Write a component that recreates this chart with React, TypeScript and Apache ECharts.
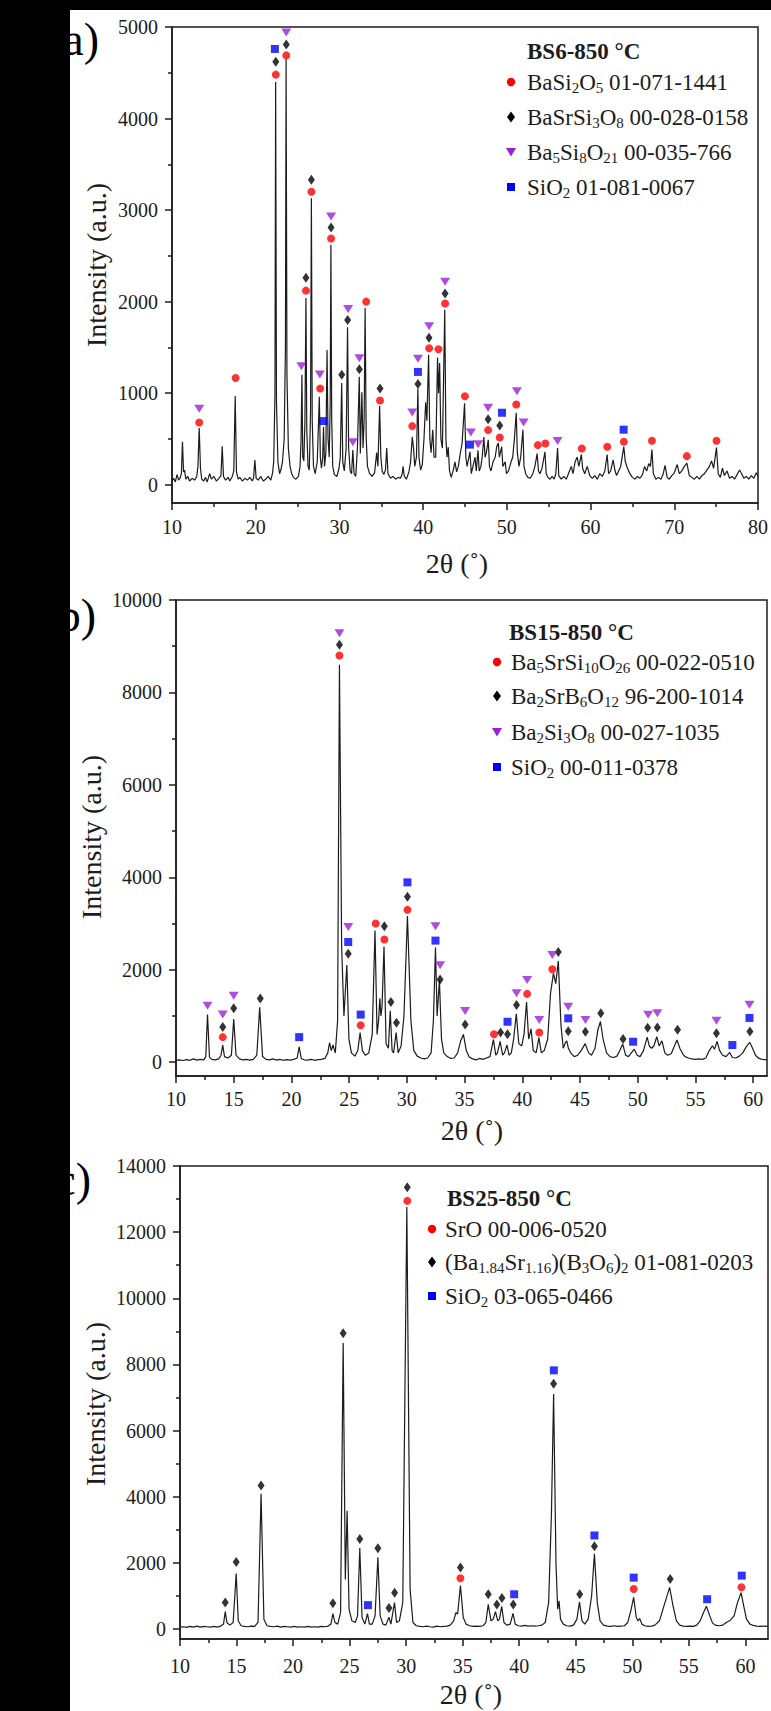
import React, { useEffect, useRef } from "react";
import * as echarts from "echarts";

const W = 771;
const H = 1711;
const FONT = "Liberation Serif";
const INK = "#1c1c1c";
const RED = "#ff0000";
const BLACK = "#000000";
const PURPLE = "#9b1fd8";
const BLUE = "#0000ff";

// ---------------- ticks ----------------
const xMajorA = [10, 20, 30, 40, 50, 60, 70, 80];
const xMinorA = [15, 25, 35, 45, 55, 65, 75];
const yMajorA = [0, 1000, 2000, 3000, 4000, 5000];
const yMinorA = [500, 1500, 2500, 3500, 4500];
const xMajorBC = [10, 15, 20, 25, 30, 35, 40, 45, 50, 55, 60];
const xMinorBC = [12.5, 17.5, 22.5, 27.5, 32.5, 37.5, 42.5, 47.5, 52.5, 57.5];
const yMajorB = [0, 2000, 4000, 6000, 8000, 10000];
const yMinorB = [1000, 3000, 5000, 7000, 9000];
const yMajorC = [0, 2000, 4000, 6000, 8000, 10000, 12000, 14000];
const yMinorC = [1000, 3000, 5000, 7000, 9000, 11000, 13000];

// ---------------- patterns (2θ, intensity) ----------------
const patternA: [number, number][] = [
  [10.0,40],[10.2,70],[10.4,30],[10.6,110],[10.8,50],[11.0,80],[11.12,120],[11.25,470],[11.38,140],[11.5,160],[11.65,60],[11.9,90],[12.1,40],[12.4,70],[12.7,50],[12.95,90],[13.1,200],[13.25,620],[13.4,180],[13.55,60],[13.8,40],[14.0,80],[14.2,30],[14.5,120],[14.7,60],[15.0,90],[15.3,40],[15.6,70],[15.85,100],[16.0,420],[16.15,90],[16.4,50],[16.7,80],[16.9,40],[17.2,90],[17.38,150],[17.55,970],[17.7,140],[17.9,60],[18.1,80],[18.4,40],[18.7,70],[19.0,50],[19.3,80],[19.6,40],[19.75,80],[19.9,270],[20.05,70],[20.3,50],[20.6,90],[20.9,40],[21.2,60],[21.5,90],[21.8,50],[22.0,120],[22.15,250],[22.3,1000],[22.38,4400],[22.48,900],[22.65,250],[22.85,120],[23.0,160],[23.2,250],[23.4,500],[23.55,1500],[23.63,4650],[23.73,1200],[23.9,400],[24.1,200],[24.3,120],[24.5,80],[24.8,60],[25.1,90],[25.3,200],[25.42,500],[25.52,1200],[25.62,300],[25.75,260],[25.88,700],[26.0,2040],[26.1,600],[26.25,200],[26.4,160],[26.55,800],[26.65,3130],[26.75,700],[26.9,200],[27.1,120],[27.35,250],[27.6,960],[27.72,300],[27.85,180],[28.0,300],[28.1,630],[28.22,200],[28.38,350],[28.52,1470],[28.64,500],[28.78,300],[28.9,900],[28.98,2620],[29.08,700],[29.2,200],[29.4,110],[29.7,90],[29.95,180],[30.1,300],[30.27,1110],[30.4,250],[30.58,150],[30.8,400],[30.97,1720],[31.1,400],[31.28,150],[31.45,120],[31.6,380],[31.75,120],[31.95,90],[32.15,400],[32.37,1180],[32.5,340],[32.68,1010],[32.82,400],[32.95,700],[33.07,1930],[33.2,500],[33.35,200],[33.6,120],[33.9,90],[34.2,130],[34.45,350],[34.6,200],[34.8,860],[34.95,300],[35.1,150],[35.3,110],[35.5,160],[35.65,400],[35.8,120],[36.1,70],[36.4,90],[36.7,60],[37.0,80],[37.3,70],[37.5,120],[37.6,200],[37.75,90],[38.0,60],[38.3,140],[38.5,250],[38.7,520],[38.85,400],[39.0,200],[39.2,300],[39.37,1050],[39.5,300],[39.7,160],[39.9,220],[40.1,500],[40.3,900],[40.45,700],[40.65,1420],[40.8,500],[40.95,350],[41.15,600],[41.3,300],[41.5,300],[41.72,1390],[41.84,1000],[41.97,1330],[42.12,500],[42.3,400],[42.58,1910],[42.72,500],[42.85,300],[43.0,410],[43.15,150],[43.35,80],[43.6,160],[43.8,250],[44.0,140],[44.2,200],[44.45,350],[44.65,450],[44.95,890],[45.1,300],[45.25,200],[45.42,280],[45.6,360],[45.75,120],[45.95,200],[46.2,300],[46.35,150],[46.55,375],[46.7,150],[46.9,200],[47.05,300],[47.25,520],[47.4,300],[47.55,350],[47.78,490],[47.92,200],[48.1,150],[48.35,250],[48.6,300],[48.8,420],[48.98,455],[49.1,300],[49.22,350],[49.38,415],[49.52,200],[49.8,250],[49.95,120],[50.2,150],[50.5,250],[50.7,300],[50.9,500],[51.12,785],[51.25,350],[51.45,200],[51.65,300],[51.92,600],[52.05,200],[52.25,120],[52.5,80],[52.8,70],[53.1,120],[53.35,200],[53.62,340],[53.78,150],[53.95,120],[54.2,180],[54.55,360],[54.7,120],[54.9,80],[55.15,60],[55.4,90],[55.65,60],[55.85,120],[56.06,400],[56.2,100],[56.5,60],[56.8,90],[57.1,60],[57.4,130],[57.7,200],[57.9,120],[58.15,250],[58.4,300],[58.6,200],[58.9,330],[59.05,180],[59.3,120],[59.6,200],[59.9,100],[60.2,70],[60.5,100],[60.8,60],[61.1,120],[61.4,90],[61.7,150],[61.98,330],[62.15,120],[62.4,150],[62.7,270],[62.9,160],[63.1,100],[63.35,150],[63.6,200],[63.97,415],[64.15,250],[64.4,180],[64.7,120],[65.0,80],[65.3,60],[65.6,90],[65.9,70],[66.2,110],[66.45,200],[66.7,150],[66.95,230],[67.15,200],[67.33,385],[67.5,120],[67.8,60],[68.1,80],[68.4,60],[68.65,110],[68.9,210],[69.15,80],[69.4,60],[69.7,100],[70.0,130],[70.35,220],[70.6,120],[70.9,150],[71.2,200],[71.5,235],[71.8,100],[72.1,80],[72.4,60],[72.7,90],[73.0,60],[73.3,100],[73.6,120],[73.9,160],[74.2,200],[74.45,260],[74.7,180],[75.04,405],[75.25,120],[75.5,80],[75.75,180],[76.0,100],[76.3,150],[76.6,70],[76.9,90],[77.2,60],[77.5,110],[77.8,160],[78.05,120],[78.3,70],[78.6,90],[78.9,60],[79.2,100],[79.5,70],[79.8,130],[80.0,90],
];

const patternB: [number, number][] = [
  [10.0,40],[10.3,50],[10.6,35],[10.9,55],[11.2,40],[11.5,70],[11.8,45],[12.1,60],[12.4,50],[12.58,120],[12.73,1030],[12.9,110],[13.1,60],[13.4,50],[13.7,70],[13.9,150],[14.05,370],[14.2,120],[14.5,90],[14.8,150],[15.0,930],[15.2,150],[15.5,70],[15.8,50],[16.1,60],[16.4,45],[16.7,60],[17.0,150],[17.25,1185],[17.5,120],[17.8,60],[18.1,50],[18.4,70],[18.7,45],[19.0,60],[19.3,40],[19.6,55],[19.9,45],[20.2,60],[20.5,90],[20.67,330],[20.85,80],[21.1,50],[21.4,45],[21.7,60],[22.0,40],[22.3,55],[22.6,60],[22.9,80],[23.15,200],[23.3,420],[23.45,250],[23.6,370],[23.8,200],[24.0,900],[24.16,8600],[24.35,2500],[24.55,1000],[24.8,2100],[24.98,500],[25.2,200],[25.5,130],[25.75,250],[25.95,640],[26.15,250],[26.4,150],[26.7,200],[27.0,600],[27.24,2850],[27.42,600],[27.55,900],[27.66,1380],[27.75,1000],[27.85,1200],[28.02,2500],[28.2,400],[28.4,300],[28.56,1110],[28.72,250],[28.85,200],[29.07,640],[29.25,200],[29.5,350],[29.75,1000],[30.05,3160],[30.35,900],[30.6,250],[30.9,130],[31.2,90],[31.5,70],[31.8,90],[32.1,200],[32.3,900],[32.48,2480],[32.62,1000],[32.82,1770],[33.0,500],[33.2,200],[33.5,120],[33.8,80],[34.1,90],[34.4,200],[34.65,450],[34.9,600],[35.15,250],[35.4,110],[35.7,70],[36.0,50],[36.3,80],[36.6,60],[36.9,90],[37.2,120],[37.5,490],[37.7,150],[37.85,200],[38.08,450],[38.3,150],[38.45,200],[38.68,370],[38.85,150],[39.05,200],[39.25,500],[39.48,1045],[39.7,400],[39.95,350],[40.15,600],[40.37,1300],[40.55,500],[40.76,720],[40.95,250],[41.2,200],[41.44,530],[41.65,200],[41.9,250],[42.2,500],[42.45,1500],[42.7,1920],[42.9,1700],[43.12,2190],[43.35,800],[43.55,300],[43.7,400],[43.85,460],[44.0,300],[44.2,200],[44.5,120],[44.8,150],[45.1,250],[45.45,400],[45.75,200],[46.0,150],[46.3,300],[46.55,700],[46.77,880],[47.0,500],[47.3,200],[47.6,120],[47.9,100],[48.2,130],[48.45,250],[48.7,390],[48.95,150],[49.2,120],[49.45,200],[49.7,280],[49.95,150],[50.2,120],[50.5,250],[50.82,540],[51.0,350],[51.2,300],[51.4,350],[51.65,550],[51.85,350],[52.1,460],[52.35,200],[52.6,150],[52.9,180],[53.1,300],[53.4,480],[53.65,300],[53.9,180],[54.1,120],[54.4,90],[54.7,70],[55.0,60],[55.3,70],[55.6,60],[55.9,90],[56.2,250],[56.47,355],[56.65,280],[56.87,450],[57.1,250],[57.35,150],[57.65,120],[57.97,210],[58.2,100],[58.5,90],[58.8,130],[59.1,200],[59.4,330],[59.7,430],[59.95,300],[60.2,150],[60.5,80],[60.8,60],[61.2,50],
];

const patternC: [number, number][] = [
  [10.0,60],[10.3,70],[10.6,50],[10.9,80],[11.2,60],[11.5,90],[11.8,60],[12.1,80],[12.4,70],[12.7,60],[13.0,80],[13.3,60],[13.6,90],[13.85,150],[14.0,530],[14.15,200],[14.4,120],[14.7,200],[14.97,1680],[15.15,250],[15.4,100],[15.7,80],[16.0,70],[16.3,90],[16.6,80],[16.9,200],[17.17,4090],[17.42,300],[17.7,100],[18.0,80],[18.3,70],[18.6,90],[18.9,60],[19.2,80],[19.5,70],[19.8,60],[20.1,80],[20.4,60],[20.7,70],[21.0,60],[21.3,80],[21.6,60],[21.9,70],[22.2,60],[22.5,80],[22.8,70],[23.1,90],[23.35,150],[23.52,470],[23.7,200],[23.95,150],[24.2,500],[24.43,8650],[24.62,1500],[24.78,3580],[24.95,600],[25.2,250],[25.5,200],[25.7,400],[25.9,2450],[26.1,350],[26.35,150],[26.58,470],[26.75,150],[27.0,150],[27.25,400],[27.5,2170],[27.7,400],[27.95,150],[28.2,120],[28.48,360],[28.65,150],[28.97,800],[29.15,200],[29.4,250],[29.7,800],[30.06,12760],[30.35,1200],[30.6,200],[30.9,100],[31.2,80],[31.5,70],[31.8,90],[32.1,70],[32.4,60],[32.7,90],[33.0,70],[33.3,80],[33.6,90],[33.9,120],[34.2,250],[34.4,500],[34.55,450],[34.8,1316],[35.05,350],[35.3,150],[35.6,100],[35.9,80],[36.2,90],[36.5,80],[36.8,100],[37.05,200],[37.26,746],[37.5,250],[37.7,300],[37.9,527],[38.1,250],[38.25,300],[38.45,690],[38.65,200],[38.9,120],[39.2,150],[39.45,472],[39.65,150],[39.9,100],[40.2,90],[40.5,110],[40.8,90],[41.1,100],[41.4,90],[41.7,100],[42.0,120],[42.3,200],[42.6,800],[42.85,3500],[43.04,7110],[43.25,2000],[43.4,600],[43.52,856],[43.65,300],[43.9,150],[44.2,100],[44.5,90],[44.8,120],[45.1,300],[45.33,820],[45.55,250],[45.8,150],[46.1,300],[46.4,1000],[46.65,2280],[46.9,800],[47.15,250],[47.45,120],[47.8,90],[48.1,80],[48.4,100],[48.7,80],[49.0,90],[49.3,100],[49.6,200],[49.9,600],[50.12,960],[50.35,350],[50.5,250],[50.65,320],[50.85,150],[51.1,100],[51.4,80],[51.7,90],[52.0,120],[52.4,250],[52.8,700],[53.3,1260],[53.6,700],[53.9,250],[54.2,120],[54.5,90],[54.8,80],[55.1,90],[55.4,80],[55.7,120],[56.0,250],[56.3,500],[56.55,690],[56.85,400],[57.1,180],[57.4,110],[57.7,100],[58.0,120],[58.3,200],[58.6,250],[58.75,300],[59.0,400],[59.3,800],[59.62,1100],[59.85,700],[60.1,300],[60.4,150],[60.7,110],[61.0,90],[61.3,80],[61.6,90],[62.0,80],
];

// ---------------- phase markers ----------------
const aRed: [number, number][] = [[13.25,680],[17.6,1165],[22.4,4480],[23.65,4690],[26.0,2120],[26.65,3200],[27.7,1050],[29.0,2690],[33.2,2000],[34.85,920],[38.7,640],[40.72,1490],[41.83,1480],[42.62,1980],[44.99,967],[47.76,596],[49.15,516],[51.12,876],[53.7,432],[54.6,450],[58.95,396],[61.99,414],[63.97,469],[67.33,480],[71.5,312],[75.04,480]];
const aBlack: [number, number][] = [[22.4,4620],[23.65,4810],[26.0,2260],[26.65,3330],[29.0,2810],[30.28,1200],[30.98,1800],[32.38,1260],[34.85,1050],[39.38,1100],[40.7,1605],[42.62,2090],[47.76,715],[49.15,647]];
const aPurple: [number, number][] = [[13.25,830],[23.65,4940],[25.45,1295],[27.66,1205],[29.0,2930],[31.04,1920],[31.6,465],[32.38,1380],[38.7,788],[39.38,1375],[40.72,1732],[42.62,2218],[45.7,570],[46.57,443],[47.76,840],[51.2,1022],[52.0,680],[56.06,478]];
const aBlue: [number, number][] = [[22.29,4760],[28.1,695],[39.38,1232],[45.6,438],[49.42,786],[63.95,601]];

const bRed: [number, number][] = [[14.05,541],[24.16,8800],[26.0,797],[27.3,3000],[28.05,2653],[30.05,3295],[37.55,603],[40.42,1477],[41.47,642],[42.6,2011]];
const bBlack: [number, number][] = [[14.05,758],[15.0,1168],[17.3,1377],[24.16,9033],[24.92,2343],[28.05,2939],[28.62,1299],[29.1,851],[30.05,3581],[32.88,1787],[35.05,812],[38.12,642],[38.72,603],[39.5,1237],[43.12,2382],[43.98,670],[45.47,660],[46.8,1058],[48.73,500],[50.86,742],[51.7,752],[53.45,700],[56.82,625],[59.72,665]];
const bPurple: [number, number][] = [[12.73,1222],[14.05,1029],[15.0,1439],[24.16,9281],[24.92,2923],[32.48,2939],[32.88,2096],[35.05,1106],[39.5,1493],[40.42,1779],[41.47,913],[42.6,2320],[43.98,1200],[45.47,912],[50.9,1027],[51.7,1056],[56.82,897],[59.68,1244]];
const bBlue: [number, number][] = [[20.67,541],[24.92,2599],[26.0,1029],[30.05,3890],[32.48,2630],[38.72,874],[43.98,948],[49.6,442],[58.2,370],[59.68,956]];

const cRed: [number, number][] = [[30.1,12945],[34.8,1536],[50.12,1214],[59.65,1265]];
const cBlack: [number, number][] = [[14.0,800],[14.97,2030],[17.17,4344],[23.52,779],[24.43,8940],[25.9,2720],[27.5,2446],[28.48,636],[28.98,1097],[30.1,13361],[34.8,1865],[37.26,1053],[38.02,746],[38.47,943],[39.47,746],[43.04,7416],[45.35,1054],[46.65,2501],[53.35,1515]];
const cBlue: [number, number][] = [[26.62,724],[39.55,1053],[43.06,7822],[46.65,2830],[50.12,1556],[56.62,903],[59.68,1616]];

// ---------------- texts ----------------
const titleA = "BS6-850 °C";
const titleB = "BS15-850 °C";
const titleC = "BS25-850 °C";
const legendA = ["BaSi{s|2}O{s|5} 01-071-1441", "BaSrSi{s|3}O{s|8} 00-028-0158", "Ba{s|5}Si{s|8}O{s|21} 00-035-766", "SiO{s|2} 01-081-0067"];
const legendB = ["Ba{s|5}SrSi{s|10}O{s|26} 00-022-0510", "Ba{s|2}SrB{s|6}O{s|12} 96-200-1014", "Ba{s|2}Si{s|3}O{s|8} 00-027-1035", "SiO{s|2} 00-011-0378"];
const legendC = ["SrO 00-006-0520", "(Ba{s|1.84}Sr{s|1.16})(B{s|3}O{s|6}){s|2} 01-081-0203", "SiO{s|2} 03-065-0466"];
const panelLabels = ["(a)", "(b)", "(c)"];
const xTitle = "2θ (˚)";
const yTitle = "Intensity (a.u.)";

type Sym = "circle" | "diamond" | "tri" | "square";
const SYM_COLOR: Record<Sym, string> = { circle: RED, diamond: BLACK, tri: PURPLE, square: BLUE };

const panels = [
  {
    grid: { left: 172, top: 27, width: 590, height: 476 },
    xMin: 10, xMax: 80, yMin: -200, yMax: 5000,
    xMajor: xMajorA, xMinor: xMinorA, yMajor: yMajorA, yMinor: yMinorA,
    xLabelMargin: 14,
    pattern: patternA,
    markers: [["circle", aRed], ["diamond", aBlack], ["tri", aPurple], ["square", aBlue]] as [Sym, [number, number][]][],
    title: titleA, legend: legendA, legendSyms: ["circle", "diamond", "tri", "square"] as Sym[],
    legendPos: { titleX: 527, titleY: 51, markX: 511, textX: 527, rows: [82, 117, 152, 187] },
    label: { x: 99, y: 39 }, yTitlePos: { x: 96, y: 265 }, xTitlePos: { x: 457, y: 563 },
  },
  {
    grid: { left: 176, top: 600, width: 591, height: 476 },
    xMin: 10, xMax: 61.2, yMin: -300, yMax: 10000,
    xMajor: xMajorBC, xMinor: xMinorBC, yMajor: yMajorB, yMinor: yMinorB,
    xLabelMargin: 13,
    pattern: patternB,
    markers: [["circle", bRed], ["diamond", bBlack], ["tri", bPurple], ["square", bBlue]] as [Sym, [number, number][]][],
    title: titleB, legend: legendB, legendSyms: ["circle", "diamond", "tri", "square"] as Sym[],
    legendPos: { titleX: 509, titleY: 632, markX: 497, textX: 511, rows: [662, 696, 732, 767] },
    label: { x: 96, y: 615 }, yTitlePos: { x: 91, y: 837 }, xTitlePos: { x: 472, y: 1130 },
  },
  {
    grid: { left: 180, top: 1166, width: 588, height: 473 },
    xMin: 10, xMax: 62, yMin: -300, yMax: 14000,
    xMajor: xMajorBC, xMinor: xMinorBC, yMajor: yMajorC, yMinor: yMinorC,
    xLabelMargin: 17,
    pattern: patternC,
    markers: [["circle", cRed], ["diamond", cBlack], ["square", cBlue]] as [Sym, [number, number][]][],
    title: titleC, legend: legendC, legendSyms: ["circle", "diamond", "square"] as Sym[],
    legendPos: { titleX: 447, titleY: 1198, markX: 432, textX: 445, rows: [1229, 1262, 1296] },
    label: { x: 91, y: 1179 }, yTitlePos: { x: 95, y: 1404 }, xTitlePos: { x: 471, y: 1694 },
  },
];

function legendMarker(sym: Sym, x: number, y: number) {
  const style = { fill: SYM_COLOR[sym] };
  if (sym === "circle") return { type: "circle", shape: { cx: x, cy: y, r: 4.2 }, style, z: 20 };
  if (sym === "square") return { type: "rect", shape: { x: x - 4, y: y - 4, width: 8, height: 8 }, style, z: 20 };
  if (sym === "diamond")
    return { type: "polygon", shape: { points: [[x, y - 5.5], [x + 4, y], [x, y + 5.5], [x - 4, y]] }, style, z: 20 };
  return { type: "polygon", shape: { points: [[x - 5, y - 4], [x + 5, y - 4], [x, y + 4.5]] }, style, z: 20 };
}

function buildOption() {
  const grid: any[] = [];
  const xAxis: any[] = [];
  const yAxis: any[] = [];
  const series: any[] = [];
  const graphic: any[] = [];
  const lineStyle = { color: INK, width: 1.5 };
  const tickLabel = (margin: number, values: number[]) => ({
    show: true, customValues: values, margin,
    fontSize: 20, fontFamily: FONT, fontStyle: "normal", fontWeight: "normal", color: INK,
    formatter: (v: number) => String(v),
  });

  panels.forEach((p, i) => {
    grid.push({ ...p.grid, show: true, borderColor: INK, borderWidth: 1.5, backgroundColor: "transparent" });
    const xi = xAxis.length;
    xAxis.push({
      gridIndex: i, type: "value", position: "bottom", min: p.xMin, max: p.xMax,
      axisLine: { show: true, onZero: false, lineStyle },
      axisTick: { show: true, customValues: p.xMajor, length: 7, lineStyle },
      axisLabel: tickLabel(p.xLabelMargin, p.xMajor),
      splitLine: { show: false },
    });
    xAxis.push({
      gridIndex: i, type: "value", position: "bottom", min: p.xMin, max: p.xMax,
      axisLine: { show: false, onZero: false },
      axisTick: { show: true, customValues: p.xMinor, length: 4, lineStyle },
      axisLabel: { show: false },
      splitLine: { show: false },
    });
    const yi = yAxis.length;
    yAxis.push({
      gridIndex: i, type: "value", position: "left", min: p.yMin, max: p.yMax,
      axisLine: { show: true, onZero: false, lineStyle },
      axisTick: { show: true, customValues: p.yMajor, length: 7, lineStyle },
      axisLabel: tickLabel(14, p.yMajor),
      splitLine: { show: false },
    });
    yAxis.push({
      gridIndex: i, type: "value", position: "left", min: p.yMin, max: p.yMax,
      axisLine: { show: false, onZero: false },
      axisTick: { show: true, customValues: p.yMinor, length: 4, lineStyle },
      axisLabel: { show: false },
      splitLine: { show: false },
    });

    series.push({
      type: "line", xAxisIndex: xi, yAxisIndex: yi, data: p.pattern,
      showSymbol: false, symbol: "none", silent: true, z: 2,
      lineStyle: { color: INK, width: 1.2 },
    });
    p.markers.forEach(([sym, data]) => {
      series.push({
        type: "scatter", xAxisIndex: xi, yAxisIndex: yi, data, z: 3, silent: true,
        symbol: sym === "square" ? "rect" : sym === "tri" ? "triangle" : sym,
        symbolSize: sym === "circle" ? 8 : sym === "diamond" ? [7, 10] : sym === "tri" ? [10, 8] : 8,
        symbolRotate: sym === "tri" ? 180 : 0,
        itemStyle: { color: SYM_COLOR[sym] },
      });
    });

    // legend block
    const lp = p.legendPos;
    graphic.push({
      type: "text", x: lp.titleX, y: lp.titleY, z: 20,
      style: { text: p.title, fill: INK, fontSize: 23, fontWeight: "bold", fontFamily: FONT, align: "left", verticalAlign: "middle" },
    });
    p.legend.forEach((txt, k) => {
      const y = lp.rows[k];
      graphic.push(legendMarker(p.legendSyms[k], lp.markX, y));
      graphic.push({
        type: "text", x: lp.textX, y, z: 20,
        style: {
          text: txt, fill: INK, fontSize: 23, fontFamily: FONT, lineHeight: 26,
          align: "left", verticalAlign: "middle",
          rich: { s: { fontSize: 15, fontFamily: FONT, fill: INK, verticalAlign: "bottom", lineHeight: 14 } },
        },
      });
    });

    // axis titles
    graphic.push({
      type: "text", x: p.yTitlePos.x, y: p.yTitlePos.y, rotation: Math.PI / 2, z: 20,
      style: { text: yTitle, fill: INK, fontSize: 28, fontFamily: FONT, align: "center", verticalAlign: "middle" },
    });
    graphic.push({
      type: "text", x: p.xTitlePos.x, y: p.xTitlePos.y, z: 20,
      style: { text: xTitle, fill: INK, fontSize: 28, fontFamily: FONT, align: "center", verticalAlign: "middle" },
    });
    // panel label
    graphic.push({
      type: "text", x: p.label.x, y: p.label.y, z: 30,
      style: { text: panelLabels[i], fill: "#000", fontSize: 46, fontFamily: FONT, align: "right", verticalAlign: "middle" },
    });
  });

  // black scan borders on top of everything
  graphic.push({ type: "rect", shape: { x: 0, y: 0, width: 70, height: H }, style: { fill: "#000" }, z: 100 });
  graphic.push({ type: "rect", shape: { x: 0, y: 0, width: W, height: 10 }, style: { fill: "#000" }, z: 100 });

  return {
    animation: false,
    backgroundColor: "#ffffff",
    textStyle: { fontFamily: FONT },
    grid, xAxis, yAxis, series, graphic,
  };
}

export default function App() {
  const ref = useRef<HTMLDivElement>(null);
  useEffect(() => {
    document.body.style.margin = "0";
    if (!ref.current) return;
    const chart = echarts.init(ref.current, undefined, { renderer: "svg", width: W, height: H });
    chart.setOption(buildOption() as any);
    return () => chart.dispose();
  }, []);
  return <div ref={ref} style={{ position: "absolute", left: 0, top: 0, width: W, height: H, background: "#fff" }} />;
}
